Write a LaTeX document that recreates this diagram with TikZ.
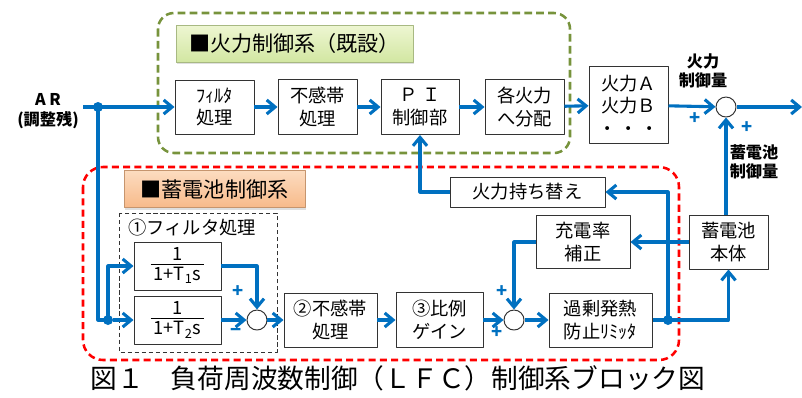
\documentclass[tikz,border=0pt]{standalone}
\usepackage{fontspec}
\setmainfont{Noto Sans CJK JP}
\usetikzlibrary{arrows.meta,shadows}
\definecolor{lblue}{HTML}{0070C0}
\definecolor{olive}{HTML}{77933C}
\definecolor{gtop}{HTML}{EEF6D2}
\definecolor{gbot}{HTML}{D2E7A2}
\definecolor{otop}{HTML}{FCDCC0}
\definecolor{obot}{HTML}{F8BA8A}
\tikzset{
	bx/.style 2 args={draw=black!80,line width=0.7pt,fill=white,align=center,inner sep=0pt,
		minimum width=#1*0.025cm,minimum height=#2*0.025cm,font=\fontsize{13}{16}\selectfont},
	sum/.style={draw=black!80,line width=0.7pt,circle,fill=white,inner sep=0pt,minimum size=0.5cm},
	flow/.style={draw=lblue,line width=2.2pt,-{Straight Barb[length=6pt,width=10pt]}},
	wire/.style={draw=lblue,line width=2.2pt},
	jdot/.style={circle,fill=lblue,inner sep=0pt,minimum size=2.5mm},
	sgn/.style={text=lblue,font=\bfseries\fontsize{13}{13}\selectfont,inner sep=0pt},
	lbl/.style={font=\bfseries\fontsize{11.5}{14}\selectfont,align=center,inner sep=0pt},
	ttl/.style 2 args={draw=#1!80!black,line width=0.5pt,minimum width=#2*0.025cm,minimum height=0.925cm,
		font=\fontsize{15}{18}\selectfont,drop shadow={shadow xshift=1pt,shadow yshift=-1.5pt,opacity=.25}},
}
\begin{document}
\begin{tikzpicture}[x=0.025cm,y=-0.025cm,line join=round]
				\useasboundingbox (0,0) rectangle (802,397);
				\draw[olive,line width=1.8pt,dash pattern=on 5.5pt off 3pt,rounded corners=0.4cm] (158,13) rectangle (570,153);
				\draw[red,line width=1.8pt,dash pattern=on 5pt off 3pt,rounded corners=0.5cm] (83,167) rectangle (679,360);
				\draw[black!80,line width=0.6pt,dash pattern=on 3pt off 2pt] (119,213) rectangle (277,352);
				\node[ttl={gbot}{237},top color=gtop,bottom color=gbot] (gtitle) at (294.5,43.5) {■火力制御系（既設）};
				\node[ttl={obot}{181},top color=otop,bottom color=obot] (otitle) at (214.5,189) {■蓄電池制御系};
				\node[anchor=west,inner sep=0pt,font=\fontsize{13}{16}\selectfont] (flabel) at (128,228) {①フィルタ処理};
				\path
				(83,107) coordinate (in)
				(802,107) coordinate (out)
				;
				\node[lbl] (ar) at (48,111) {A R\\(調整残)};
				\node[bx={79}{54}] (filt) at (214.5,107) {ﾌｨﾙﾀ\\処理};
				\node[bx={79}{55}] (dead) at (317.5,107) {不感帯\\処理};
				\node[bx={78}{55}] (pi) at (420,107) {Ｐ Ｉ\\制御部};
				\node[bx={79}{55}] (dist) at (524.5,107) {各火力\\へ分配};
				\node[bx={79}{77}] (plant) at (628.5,105) {火力Ａ\\火力Ｂ\\・\,・\,・};
				\node[sum] (suma) at (726,107) {};
				\node[jdot] (split) at (98,107) {};
				\node[jdot] (split2) at (108,320) {};
				\node[bx={87}{48}] (f1) at (177.5,266) {\begin{tabular}{@{\,}c@{\,}}1\\[-2pt]\hline 1+T\textsubscript{1}s\end{tabular}};
				\node[bx={87}{48}] (f2) at (177.5,320) {\begin{tabular}{@{\,}c@{\,}}1\\[-2pt]\hline 1+T\textsubscript{2}s\end{tabular}};
				\node[sum] (sumb) at (257,320) {};
				\node[bx={93}{54}] (dead2) at (330.5,320) {②不感帯\\処理};
				\node[bx={87}{55}] (gain) at (439.5,320) {③比例\\ゲイン};
				\node[sum] (sumc) at (514,320) {};
				\node[bx={103}{54}] (lim) at (600.5,320) {過剰発熱\\防止ﾘﾐｯﾀ};
				\node[jdot] (split3) at (668,320) {};
				\node[bx={79}{54}] (bat) at (728.5,242) {蓄電池\\本体};
				\node[bx={94}{53}] (soc) at (583,242) {充電率\\補正};
				\node[bx={155}{30}] (swap) at (527.5,192) {火力持ち替え};
				\node[lbl] (fout) at (703,71) {火力\\制御量};
				\node[lbl] (bout) at (754,162) {蓄電池\\制御量};
				\draw[flow] (in) -- (filt);
				\draw[flow] (filt) -- (dead);
				\draw[flow] (dead) -- (pi);
				\draw[flow] (pi) -- (dist);
				\draw[flow] (dist) -- (plant);
				\draw[flow] (plant) -- (suma);
				\draw[flow] (suma) -- (out);
				\draw[wire] (split.center) |- (split2.center);
				\draw[flow] (split2) -- (f2);
				\draw[flow] (split2.center) |- (f1);
				\draw[flow] (f1) -| (sumb);
				\draw[flow] (f2) -- (sumb);
				\draw[flow] (sumb) -- (dead2);
				\draw[flow] (dead2) -- (gain);
				\draw[flow] (gain) -- (sumc);
				\draw[flow] (sumc) -- (lim);
				\draw[flow] (lim) -- (split3.center) -| (bat);
				\draw[flow] (split3.center) |- (swap);
				\draw[flow] (swap) -| (pi);
				\draw[flow] (bat) -- (soc);
				\draw[flow] (soc) -| (sumc);
				\draw[flow] (bat.north -| suma) -- (suma);
				\foreach \x/\y/\s in {695/119/+,747/128/+,238/292/+,502/292/+,497/333/+,236/332/−}\node[sgn] (pm\x) at (\x,\y) {\s};
				\node[font=\fontsize{19}{22}\selectfont,inner sep=0pt] (cap) at (398,378) {図１　負荷周波数制御（ＬＦＣ）制御系ブロック図};
			\end{tikzpicture}
\end{document}
